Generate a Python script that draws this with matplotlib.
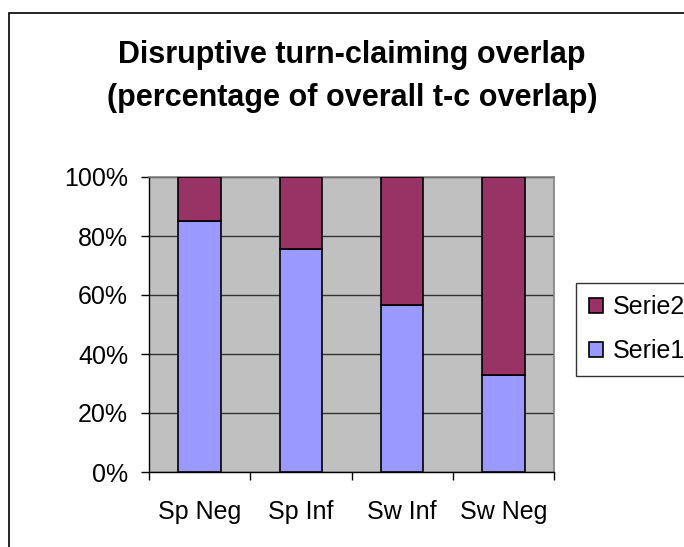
import numpy as np
import matplotlib
matplotlib.use("Agg")
import matplotlib.pyplot as plt
from matplotlib.patches import Rectangle
from matplotlib.ticker import FuncFormatter

plt.rcParams['font.family'] = ['Liberation Sans', 'DejaVu Sans']

# data
categories = ['Sp Neg', 'Sp Inf', 'Sw Inf', 'Sw Neg']
serie1 = np.array([85.0, 75.5, 56.5, 33.0])
serie2 = 100.0 - serie1

fig = plt.figure(figsize=(6.84, 5.47), dpi=100)
fig.patch.set_facecolor('white')

# outer chart frame (cut by the image edges on the right and bottom)
fig.patches.append(Rectangle((9 / 684, -0.2), 2.0, 1.2 - 13 / 547, transform=fig.transFigure,
                             fill=False, edgecolor='black', linewidth=1.2))

ax = fig.add_axes([149 / 684, 1 - 472 / 547, 405 / 684, 295 / 547])
ax.set_facecolor('#C0C0C0')

x = np.arange(len(categories))
w = 0.42
b1 = ax.bar(x, serie1, w, color='#9999FF', edgecolor='black', linewidth=1.2, label='Serie1', zorder=3)
b2 = ax.bar(x, serie2, w, bottom=serie1, color='#993366', edgecolor='black', linewidth=1.2,
            label='Serie2', zorder=3)

ax.set_xlim(-0.5, len(categories) - 0.5)
ax.set_ylim(0, 100)
ax.set_yticks(np.arange(0, 101, 20))
ax.yaxis.set_major_formatter(FuncFormatter(lambda v, p: '%d%%' % v))
ax.yaxis.grid(True, color='#333333', linewidth=1.0, zorder=1)

ax.set_xticks(x)
ax.set_xticklabels(categories)
ax.set_xticks(np.arange(-0.5, len(categories), 1.0), minor=True)
ax.tick_params(axis='x', which='major', length=0, pad=20, labelsize=18)
ax.tick_params(axis='x', which='minor', length=6, width=1, direction='out')
ax.tick_params(axis='y', length=6, width=1, direction='out', pad=9, labelsize=18)

for s in ['top', 'right']:
    ax.spines[s].set_color('#808080')
    ax.spines[s].set_linewidth(1.2)
for s in ['left', 'bottom']:
    ax.spines[s].set_color('black')
    ax.spines[s].set_linewidth(1.0)

fig.text(352 / 684, 1 - 63 / 547, 'Disruptive turn-claiming overlap', ha='center', va='baseline',
         fontsize=22, fontweight='bold')
fig.text(352 / 684, 1 - 106 / 547, '(percentage of overall t-c overlap)', ha='center', va='baseline',
         fontsize=22, fontweight='bold')

leg = fig.legend([b2, b1], ['Serie2', 'Serie1'], loc='upper left',
                 bbox_to_anchor=(576 / 684, 1 - 283 / 547), fontsize=18, frameon=True,
                 fancybox=False, edgecolor='black', handlelength=0.56, handleheight=0.56,
                 handletextpad=0.4, borderpad=0.5, labelspacing=0.8, borderaxespad=0)
leg.get_frame().set_linewidth(1.0)

fig.savefig('out.png', dpi=100)
